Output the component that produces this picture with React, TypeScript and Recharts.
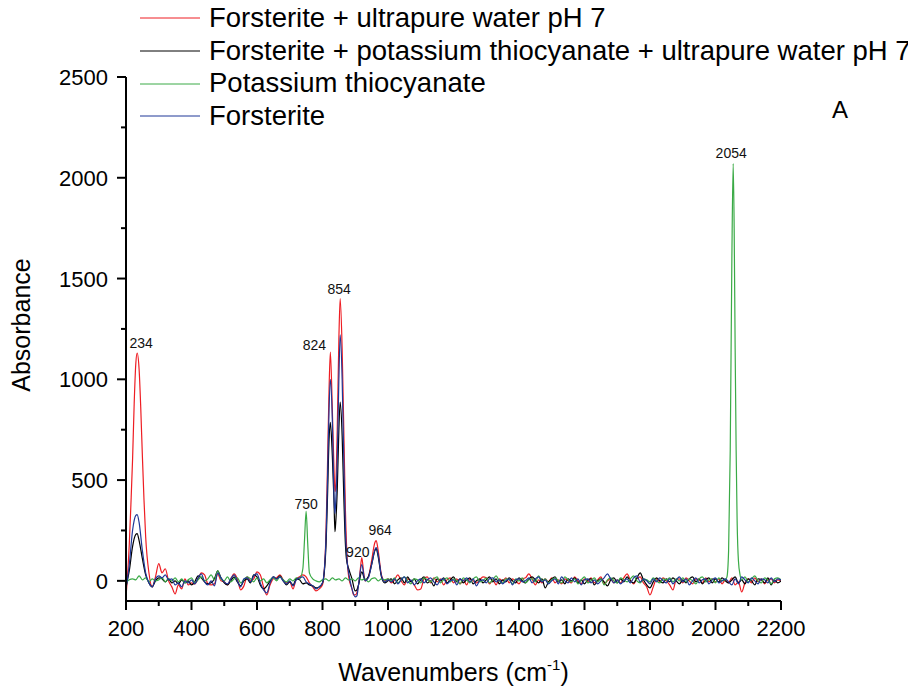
import React from 'react';
import { LineChart, Line, XAxis, YAxis, Legend, ReferenceDot } from 'recharts';

const FONT = '"Liberation Sans", Arial, Helvetica, sans-serif';

// Spectra are sampled every 10 cm-1 from 200 to 2200 cm-1; extra points refine the bands.
const GRID_START = 200;
const GRID_STEP = 10;

// Forsterite + ultrapure water pH 7
const redBase = [
  -80, 180, 600, 1080, 1050, 620, 220, 40, -30, 20, // 200
  85, 40, 60, 0, -30, -65, -20, -40, 10, -20, // 300
  -10, -15, 10, 40, 30, -15, -20, -15, 35, 0, // 400
  -5, -20, 10, 35, 10, -45, -25, 20, 0, 10, // 500
  45, 30, -30, -70, -20, 10, 15, 30, 5, -10, // 600
  -5, -40, 10, 20, 30, 20, -10, -30, -50, -40, // 700
  -20, 200, 950, 850, 460, 1200, 1150, 350, 20, -40, // 800
  -70, -20, 115, 0, 20, 100, 190, 150, 30, 0, // 900
  10, -10, 5, 30, 0, -20, 10, 0, -20, -45, // 1000
  -40, 10, 20, -10, 15, -5, 10, -20, 5, 15, // 1100
  -10, 10, -15, 5, -20, 10, 0, -10, 5, 20, // 1200
  15, -15, 5, -20, 10, 0, 15, -10, 10, 0, // 1300
  -15, 10, 15, 35, 10, -20, 5, -10, 10, -5, // 1400
  15, -10, 5, -15, 10, 0, -10, 20, 0, -15, // 1500
  10, -5, 15, -10, 5, 20, -15, 0, 10, -10, // 1600
  5, -10, 15, 35, 5, -15, 10, 20, -10, -30, // 1700
  -70, -30, 10, -5, 15, 0, -20, -45, 5, 10, // 1800
  -10, 15, 0, -15, 10, 5, -10, 15, -5, 10, // 1900
  -5, 10, -15, 5, -10, 15, -20, -5, -55, -10, // 2000
  10, -10, 15, -5, 10, -15, 5, 10, -10, 5, // 2100
  0, // 2200
];
const redBands: [number, number][] = [
  [215, 380], [225, 880], [234, 1130], [245, 860], [255, 400],
  [815, 550], [824, 1135], [835, 560], [838, 443], [845, 750], [854, 1400],
  [865, 750], [875, 120], [895, -70], [915, 50], [925, 50], [957, 170], [964, 200],
];

// Forsterite + potassium thiocyanate + ultrapure water pH 7
const blackBase = [
  -30, 50, 170, 230, 200, 110, 30, -10, -30, 0, // 200
  15, 10, -5, 10, -10, 0, -15, 5, -10, 0, // 300
  -20, -5, 25, 15, -5, -15, -10, 10, 50, 15, // 400
  -10, -20, 0, 20, -5, -25, 0, 10, -10, 30, // 500
  20, -20, -40, -25, 0, 20, 10, 25, 0, -20, // 600
  -5, -20, 10, 5, -15, -10, -20, -25, -35, -30, // 700
  -10, 150, 700, 620, 280, 750, 720, 180, 60, 10, // 800
  -50, -20, 45, 5, 20, 80, 150, 120, 20, -10, // 900
  0, 10, -15, 5, 15, -10, 20, -5, 10, -15, // 1000
  5, 20, -10, 0, -25, 10, 0, 15, -10, 5, // 1100
  20, -5, 10, -10, 5, 15, -15, 0, 10, -10, // 1200
  5, 20, -5, 10, -15, 5, -5, 15, 0, -10, // 1300
  15, 0, -10, 10, 20, 5, -10, 10, -35, -5, // 1400
  10, 20, -5, 5, -15, 10, 0, 15, -10, 5, // 1500
  -15, 5, 10, -20, 0, 10, -5, -25, 5, 15, // 1600
  -10, 10, -5, 20, 0, -10, 15, 40, 5, -20, // 1700
  -35, -5, 15, 0, -10, 10, -5, 15, 0, -15, // 1800
  5, -10, 10, 20, -5, 10, -15, 5, 15, -10, // 1900
  10, -5, 15, 0, -10, 5, 20, -10, 5, -15, // 2000
  10, 0, -20, 10, 5, -10, 15, -20, 5, -10, // 2100
  0, // 2200
];
const blackBands: [number, number][] = [
  [234, 234], [815, 400], [824, 787], [835, 400], [838, 244], [845, 450],
  [854, 887], [865, 420], [873, 110], [905, -45], [964, 160],
];

// Potassium thiocyanate
const greenBase = [
  -10, 5, 10, 5, 25, 5, 15, -5, 10, 0, // 200
  5, 15, -5, 10, 0, 15, -5, 10, -10, 5, // 300
  15, -10, 5, 20, 0, 10, 30, 5, 50, 10, // 400
  0, 20, -5, 10, 15, -10, 5, 20, 10, -5, // 500
  15, 0, 10, -10, 5, 15, 0, 20, 5, -5, // 600
  10, 0, 15, 10, 60, 345, 40, 10, 0, -5, // 700
  5, 10, 0, 15, 5, 10, 0, 15, 5, 10, // 800
  0, 15, 5, 10, -5, 10, 15, 0, 10, 5, // 900
  10, 0, 15, -10, 5, 20, 0, -15, 10, 5, // 1000
  -10, 15, 5, -5, 10, 20, -10, 5, 15, -5, // 1100
  10, 0, -15, 15, 5, -10, 10, 20, -5, 0, // 1200
  15, -10, 5, 25, 0, -10, 10, 5, -15, 10, // 1300
  0, 15, -10, 5, 10, -5, 25, 0, 10, -10, // 1400
  5, 15, 0, -10, 20, 5, -5, 10, -15, 5, // 1500
  20, -10, 0, 15, -5, 10, -20, 5, 15, 0, // 1600
  -10, 15, 5, -5, 10, 25, 0, -10, 10, 5, // 1700
  -5, 15, 0, -10, 10, 5, 15, -5, 10, 0, // 1800
  15, -5, 10, 0, -15, 10, 20, -5, 5, 10, // 1900
  -10, 15, 0, 5, 150, 1600, 1150, 100, 5, 20, // 2000
  -5, 10, 25, 0, -10, 15, 5, -15, 10, 15, // 2100
  5, // 2200
];
const greenBands: [number, number][] = [
  [745, 200], [755, 180],
  [2035, 20], [2045, 650], [2054, 2070], [2057, 1750], [2063, 650], [2066, 300], [2075, 30],
];

// Forsterite
const blueBase = [
  -40, 80, 250, 325, 290, 150, 40, -10, -30, 10, // 200
  25, 15, 30, 5, 10, -20, -10, -30, 0, -10, // 300
  5, -15, 15, 35, -5, -20, 0, -25, 40, 15, // 400
  -5, -15, 10, 30, 0, -30, 10, 15, -5, 25, // 500
  35, -10, -45, -60, -10, 20, 10, 20, 0, -15, // 600
  0, -25, 5, 15, 20, -5, -15, -25, -40, -30, // 700
  -10, 180, 850, 800, 380, 1000, 1000, 250, 40, -40, // 800
  -80, -20, 80, 0, 15, 80, 155, 130, 25, -5, // 900
  5, -5, 10, -15, 5, 20, -10, 5, -20, 0, // 1000
  10, -10, 5, 15, -5, -20, 5, 10, -15, 0, // 1100
  5, -20, 10, 0, 15, -5, 10, -25, 0, 5, // 1200
  -10, 10, 15, -5, 5, -15, 0, 10, -20, 5, // 1300
  10, -5, 0, 15, -10, 10, 20, -5, 5, -15, // 1400
  0, 10, -15, 20, 0, -10, 15, -5, 10, -20, // 1500
  5, 10, -10, 5, -15, 0, 15, 35, 10, -10, // 1600
  5, -15, 0, 10, -10, 15, 25, -5, 10, 0, // 1700
  -15, 10, -5, 15, 0, -10, 10, -15, 5, 20, // 1800
  -5, 10, -20, 0, 15, -10, 5, 10, -15, 5, // 1900
  15, -10, 0, 10, -5, -20, 10, -15, 20, 5, // 2000
  -10, 15, 0, -15, 10, 5, -10, 15, -5, 10, // 2100
  5, // 2200
];
const blueBands: [number, number][] = [
  [234, 329], [815, 480], [824, 1000], [835, 420], [838, 334], [845, 600],
  [854, 1220], [865, 600], [875, 100], [905, -75], [964, 165],
];

const xTickValues = [
  200, 300, 400, 500, 600, 700, 800, 900, 1000, 1100, 1200,
  1300, 1400, 1500, 1600, 1700, 1800, 1900, 2000, 2100, 2200,
];
const yTickValues = [0, 250, 500, 750, 1000, 1250, 1500, 1750, 2000, 2250, 2500];

type Pt = { x: number; y: number };

function buildSeries(base: number[], bands: [number, number][]): Pt[] {
  const m = new Map<number, number>();
  base.forEach((v, i) => m.set(GRID_START + i * GRID_STEP, v));
  bands.forEach(([x, y]) => m.set(x, y));
  return [...m.entries()].sort((a, b) => a[0] - b[0]).map(([x, y]) => ({ x, y }));
}

const series = [
  { name: 'Forsterite + ultrapure water pH 7', color: '#ee1d23', data: buildSeries(redBase, redBands) },
  { name: 'Forsterite + potassium thiocyanate + ultrapure water pH 7', color: '#000000', data: buildSeries(blackBase, blackBands) },
  { name: 'Potassium thiocyanate', color: '#3aaa46', data: buildSeries(greenBase, greenBands) },
  { name: 'Forsterite', color: '#1f3797', data: buildSeries(blueBase, blueBands) },
];

// Band labels: wavenumber, the spectrum whose maximum carries the tag, and the tag's offset
const bandTags = [
  { wavenumber: 234, seriesIndex: 0, shiftX: 4, lift: 5 },
  { wavenumber: 750, seriesIndex: 2, shiftX: 0, lift: 2 },
  { wavenumber: 824, seriesIndex: 0, shiftX: -16, lift: 2 },
  { wavenumber: 854, seriesIndex: 0, shiftX: -1, lift: 5 },
  { wavenumber: 920, seriesIndex: 0, shiftX: -4, lift: 1 },
  { wavenumber: 964, seriesIndex: 0, shiftX: 4, lift: 6 },
  { wavenumber: 2054, seriesIndex: 2, shiftX: -2, lift: 6 },
];

const valueAt = (idx: number, x: number) => {
  const p = series[idx].data.find((d) => d.x === x);
  return p ? p.y : 0;
};

const BandTag = (props: any) => {
  const { viewBox, text, shiftX, lift } = props;
  const cx = viewBox.x + (viewBox.width || 0) / 2;
  const cy = viewBox.y + (viewBox.height || 0) / 2;
  return (
    <text x={cx + shiftX} y={cy - lift} textAnchor="middle" fontSize={14} fontFamily={FONT} fill="#111">
      {text}
    </text>
  );
};

const XTick = (props: any) => {
  const { x, y, payload } = props;
  const major = (payload.value - 200) % 200 === 0;
  return (
    <g>
      <line x1={x} x2={x} y1={y} y2={y + (major ? 9 : 5)} stroke="#000" strokeWidth={2} />
      {major && (
        <text x={x} y={y + 35} textAnchor="middle" fontSize={22} fontFamily={FONT} fill="#000">
          {payload.value}
        </text>
      )}
    </g>
  );
};

const YTick = (props: any) => {
  const { x, y, payload } = props;
  const major = payload.value % 500 === 0;
  return (
    <g>
      <line x1={x - (major ? 9 : 5)} x2={x} y1={y} y2={y} stroke="#000" strokeWidth={2} />
      {major && (
        <text x={x - 18} y={y + 8} textAnchor="end" fontSize={22} fontFamily={FONT} fill="#000">
          {payload.value}
        </text>
      )}
    </g>
  );
};

const XTitle = (props: any) => {
  const { viewBox } = props;
  const cx = viewBox.x + viewBox.width / 2;
  return (
    <text x={cx} y={viewBox.y + 80} textAnchor="middle" fontSize={25} fontFamily={FONT} fill="#000">
      Wavenumbers (cm
      <tspan fontSize={15} dy={-11}>-1</tspan>
      <tspan dy={11}>)</tspan>
    </text>
  );
};

const YTitle = (props: any) => {
  const { viewBox } = props;
  const cy = viewBox.y + viewBox.height / 2 - 14;
  const bx = 22;
  return (
    <text
      x={bx}
      y={cy}
      transform={`rotate(-90 ${bx} ${cy})`}
      textAnchor="middle"
      fontSize={25}
      fontFamily={FONT}
      fill="#000"
    >
      Absorbance
    </text>
  );
};

const LegendBox = () => (
  <div style={{ fontFamily: FONT, fontSize: 27.5, color: '#000' }}>
    {series.map((s) => (
      <div key={s.name} style={{ display: 'flex', alignItems: 'center', height: 32.7, whiteSpace: 'nowrap' }}>
        <svg width={60} height={4} style={{ marginRight: 9, flex: 'none' }}>
          <line x1={0} x2={60} y1={2} y2={2} stroke={s.color} strokeWidth={1} />
        </svg>
        <span style={{ lineHeight: '32.7px' }}>{s.name}</span>
      </div>
    ))}
  </div>
);

export default function App() {
  return (
    <div style={{ position: 'relative', width: 900, height: 684, fontFamily: FONT }}>
      <LineChart width={900} height={684} margin={{ top: 69, right: 127, bottom: 0, left: 0 }}>
        <XAxis
          type="number"
          dataKey="x"
          domain={[200, 2200]}
          ticks={xTickValues}
          interval={0}
          allowDataOverflow
          height={91}
          tickSize={0}
          tickMargin={0}
          tickLine={false}
          axisLine={{ stroke: '#000', strokeWidth: 2 }}
          tick={<XTick />}
          label={<XTitle />}
        />
        <YAxis
          type="number"
          domain={[-100, 2500]}
          ticks={yTickValues}
          interval={0}
          allowDataOverflow
          width={118}
          tickSize={0}
          tickMargin={0}
          tickLine={false}
          axisLine={{ stroke: '#000', strokeWidth: 2 }}
          tick={<YTick />}
          label={<YTitle />}
        />
        <Legend
          layout="vertical"
          align="center"
          verticalAlign="middle"
          content={<LegendBox />}
          wrapperStyle={{ left: 132, top: -6, width: 'auto' }}
        />
        {series.map((s) => (
          <Line
            key={s.name}
            data={s.data}
            dataKey="y"
            name={s.name}
            type="monotone"
            stroke={s.color}
            strokeWidth={1.2}
            dot={false}
            activeDot={false}
            isAnimationActive={false}
          />
        ))}
        {bandTags.map((t) => (
          <ReferenceDot
            key={t.wavenumber}
            x={t.wavenumber}
            y={valueAt(t.seriesIndex, t.wavenumber)}
            r={0}
            fill="none"
            stroke="none"
            label={<BandTag text={String(t.wavenumber)} shiftX={t.shiftX} lift={t.lift} />}
          />
        ))}
      </LineChart>
      <div style={{ position: 'absolute', left: 824, top: 89, fontSize: 24, lineHeight: '26px', color: '#000' }}>A</div>
    </div>
  );
}
